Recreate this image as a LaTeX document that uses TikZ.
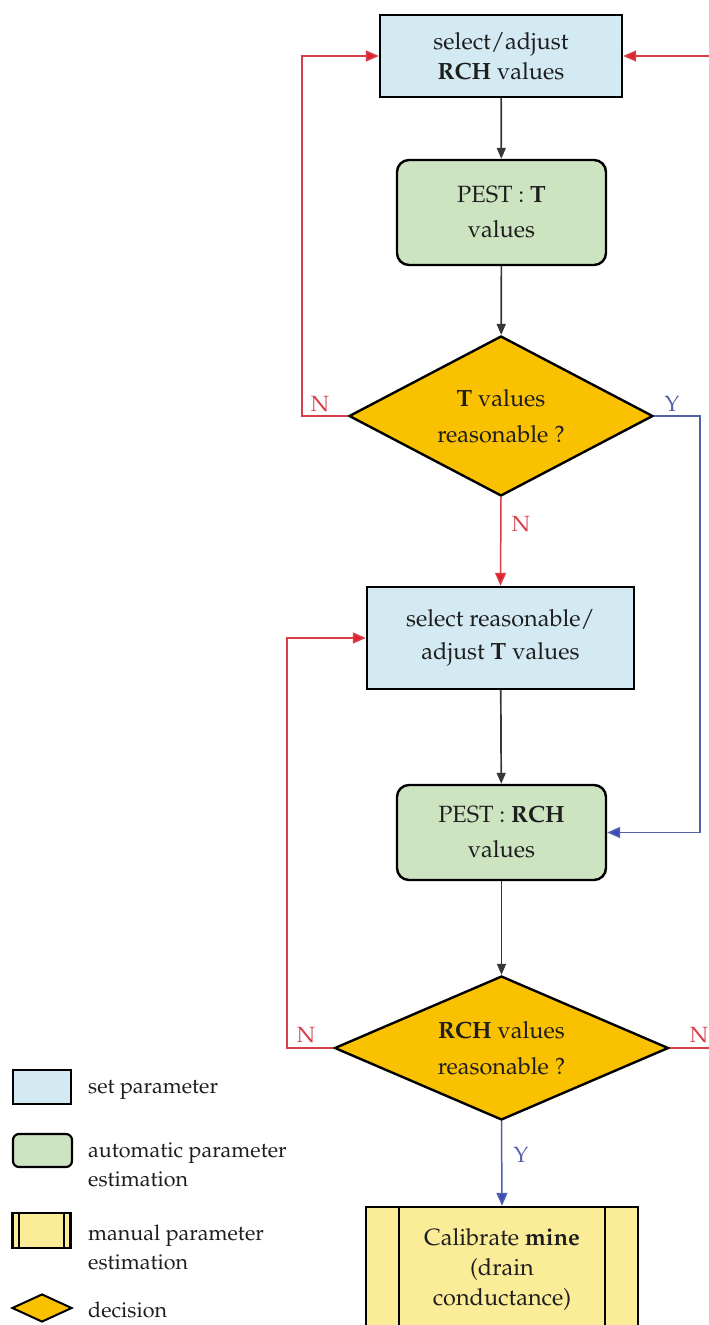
\documentclass[tikz,border=0pt]{standalone}
\usepackage[T1]{fontenc}
\usepackage{mathpazo}
\usetikzlibrary{shapes.geometric,arrows.meta}

\definecolor{setblue}{RGB}{212,234,242}
\definecolor{autogreen}{RGB}{205,228,193}
\definecolor{decyellow}{RGB}{249,193,0}
\definecolor{manyellow}{RGB}{251,236,152}
\definecolor{noline}{RGB}{214,62,74}
\definecolor{notip}{RGB}{228,32,45}
\definecolor{yesline}{RGB}{82,96,172}
\definecolor{yestip}{RGB}{62,72,190}
\definecolor{flowline}{RGB}{55,55,55}
\definecolor{txt}{RGB}{30,30,30}

\tikzset{
  boxtext/.style={font=\fontsize{23.5}{30}\selectfont, text=txt, align=center, inner sep=0pt},
  setbox/.style={boxtext, rectangle, draw=black, line width=2.4pt, fill=setblue},
  autobox/.style={boxtext, rectangle, rounded corners=12pt, draw=black, line width=2.4pt, fill=autogreen,
    font=\fontsize{23.5}{35}\selectfont},
  decbox/.style={boxtext, diamond, draw=black, line width=2.4pt, fill=decyellow,
    font=\fontsize{23.5}{36}\selectfont},
  manbox/.style={boxtext, rectangle, draw=black, line width=2.4pt, fill=manyellow},
  flow/.style={draw=flowline, line width=1.7pt, -{Triangle[length=11pt,width=9pt]}},
  noflow/.style={draw=noline, line width=1.5pt, -{Triangle[length=13pt,width=11pt,fill=notip]}},
  yesflow/.style={draw=yesline, line width=1.5pt, -{Triangle[length=13pt,width=11pt,fill=yestip]}},
  nolabel/.style={font=\fontsize{22}{22}\selectfont, text=noline, inner sep=0pt},
  yeslabel/.style={font=\fontsize{22}{22}\selectfont, text=yesline, inner sep=0pt},
  legtext/.style={font=\fontsize{21.5}{29}\selectfont, text=txt, align=left, anchor=west, inner sep=0pt},
}

\begin{document}
\begin{tikzpicture}[x=1pt,y=-1pt]
\useasboundingbox (0,0) rectangle (709,1325);
\clip (0,0) rectangle (709,1325);

% main chain
\node[setbox, minimum width=242pt, minimum height=82pt] (rch) at (501,56)
  {select/adjust\\\textbf{RCH} values};
\node[autobox, minimum width=209pt, minimum height=105pt] (pestT) at (501.5,212.5)
  {PEST : \textbf{T}\\values};
\node[decbox, aspect=1.9, minimum width=304pt, minimum height=160pt] (decT) at (501,416)
  {\textbf{T} values\\reasonable ?};
\node[setbox, minimum width=267pt, minimum height=102pt, font=\fontsize{23.5}{33}\selectfont] (selT) at (500.5,638)
  {select reasonable/\\adjust \textbf{T} values};
\node[autobox, minimum width=209pt, minimum height=95pt] (pestR) at (501.5,832.5)
  {PEST : \textbf{RCH}\\values};
\node[decbox, aspect=2.32, minimum width=334pt, minimum height=144pt] (decR) at (501.5,1048)
  {\textbf{RCH} values\\reasonable ?};
\node[manbox, minimum width=272pt, minimum height=124pt] (calib) at (502,1269)
  {Calibrate \textbf{mine}\\(drain\\conductance)};
\draw[line width=2.2pt] ([xshift=34pt]calib.north west) -- ([xshift=34pt]calib.south west);
\draw[line width=2.2pt] ([xshift=-34pt]calib.north east) -- ([xshift=-34pt]calib.south east);

% corner points of the loops
\coordinate (loopA) at (302,416);
\coordinate (loopB) at (700,416);
\coordinate (loopC) at (287,1048);
\coordinate (loopD) at (730,1048);

% straight flow
\draw[flow] (rch) -- (pestT);
\draw[flow] (pestT) -- (decT);
\draw[flow] (selT) -- (pestR);
\draw[flow] (pestR) -- (decR);

% decision branches
\draw[noflow] (decT.west) -- (loopA) |- (rch.west);
\draw[yesflow] (decT.east) -- (loopB) |- (pestR.east);
\draw[noflow] (decT.south) -- (selT.north);
\draw[noflow] (decR.west) -- (loopC) |- (selT.west);
\draw[noflow] (decR.east) -- (loopD) |- (rch.east);
\draw[yesflow] (decR.south) -- (calib.north);

% branch labels
\node[nolabel] (nA) at (320,404) {N};
\node[yeslabel] (yB) at (672,404) {Y};
\node[nolabel] (nT) at (521,524) {N};
\node[nolabel] (nC) at (306,1035) {N};
\node[nolabel] (nD) at (699,1035) {N};
\node[yeslabel] (yR) at (521,1155) {Y};

% legend
\node[draw=black, line width=2.2pt, fill=setblue, minimum width=58pt, minimum height=34pt, inner sep=0pt] (legset) at (42,1087) {};
\node[legtext] (legsett) at (88,1090) {set parameter};
\node[draw=black, line width=2.2pt, fill=autogreen, rounded corners=6pt, minimum width=59pt, minimum height=33pt, inner sep=0pt] (legauto) at (42.5,1150.5) {};
\node[legtext] (legautot) at (88,1165) {automatic parameter\\estimation};
\node[draw=black, line width=2.2pt, fill=manyellow, minimum width=58pt, minimum height=35pt, inner sep=0pt] (legman) at (41.5,1230.5) {};
\draw[line width=1.8pt] ([xshift=7.5pt]legman.north west) -- ([xshift=7.5pt]legman.south west);
\draw[line width=1.8pt] ([xshift=-7.5pt]legman.north east) -- ([xshift=-7.5pt]legman.south east);
\node[legtext] (legmant) at (88,1247) {manual parameter\\estimation};
\node[diamond, draw=black, line width=2pt, fill=decyellow, minimum width=60pt, minimum height=28pt, inner sep=0pt] (legdec) at (42,1308) {};
\node[legtext] (legdect) at (88,1310) {decision};
\end{tikzpicture}
\end{document}
